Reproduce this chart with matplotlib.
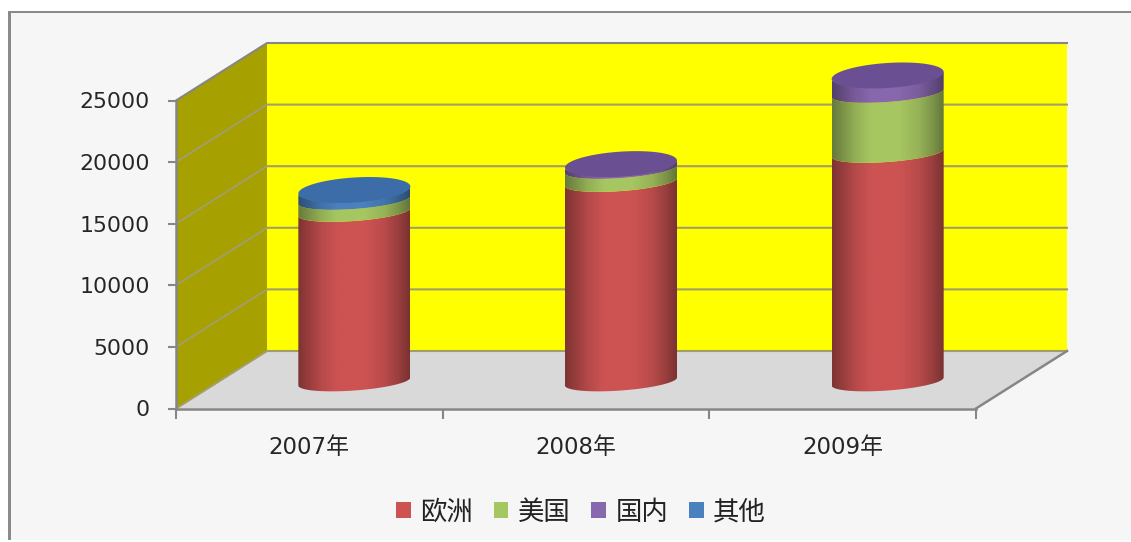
import numpy as np
import matplotlib
matplotlib.use("Agg")
import matplotlib.pyplot as plt
from matplotlib.patches import Polygon, Patch, Rectangle, PathPatch
from matplotlib.path import Path
from matplotlib.colors import to_rgb

plt.rcParams['font.family'] = ['DejaVu Sans', 'Noto Sans CJK SC']

years = ['2007年', '2008年', '2009年']
series_names = ['欧洲', '美国', '国内', '其他']
europe = [13760, 16190, 18550]
usa = [975, 1055, 4870]
domestic = [0, 400, 1420]
other = [810, 0, 0]
y_ticks = [0, 5000, 10000, 15000, 20000, 25000]

side_colors = ['#CD5353', '#A6C661', '#8767AE', '#4A80BE']
top_colors = ['#C0504D', '#9BBB59', '#6A5092', '#3D6DA8']

W, H = 1131, 542
fig = plt.figure(figsize=(W / 100, H / 100), dpi=100, facecolor='white')
fig.add_artist(Rectangle((9 / W, 1 - 540 / H), (W - 9) / W, 528 / H, transform=fig.transFigure,
                         facecolor='#F6F6F6', edgecolor='none', zorder=-5))
fig.add_artist(Rectangle((8 / W, 1 - 540 / H), 2.5 / W, 528 / H, transform=fig.transFigure,
                         facecolor='#8A8A8A', edgecolor='none', zorder=-4))
fig.add_artist(Rectangle((8 / W, 1 - 13 / H), (W - 8) / W, 1.5 / H, transform=fig.transFigure,
                         facecolor='#8A8A8A', edgecolor='none', zorder=-4))

left, right, top, bottom = 176, 976, 100.5, 408.5
ax = fig.add_axes([left / W, 1 - bottom / H, (right - left) / W, (bottom - top) / H])
ax.set_facecolor('none')
XMAX, VMAX = 3, 25000
px_x = (right - left) / XMAX
px_v = (bottom - top) / VMAX
DX, DV = 91 / px_x, 57.5 / px_v

grid_c = '#A39E66'
edge_c = '#868686'
# walls
ax.add_patch(Polygon([(0, 0), (DX, DV), (XMAX + DX, DV), (XMAX, 0)], closed=True,
                     facecolor='#D9D9D9', edgecolor='none', clip_on=False, zorder=1))
ax.add_patch(Polygon([(DX, DV), (XMAX + DX, DV), (XMAX + DX, VMAX + DV), (DX, VMAX + DV)], closed=True,
                     facecolor='#FFFF00', edgecolor='none', clip_on=False, zorder=1))
ax.add_patch(Polygon([(0, 0), (DX, DV), (DX, VMAX + DV), (0, VMAX)], closed=True,
                     facecolor='#A6A000', edgecolor='none', clip_on=False, zorder=1))
for v in y_ticks:
    ax.plot([0, DX, XMAX + DX], [v, v + DV, v + DV], color=grid_c if v not in (25000,) else edge_c,
            lw=1.5, clip_on=False, zorder=2, solid_joinstyle='miter')
ax.plot([XMAX, XMAX + DX], [0, DV], color=edge_c, lw=1.8, clip_on=False, zorder=2)

# cylinders
a = 56 / px_x
b_side = 9 / px_v
s_side = 4 / px_v
b_cap = 12.5 / px_v
s_cap = 3.5 / px_v
cx_off = 45 / px_x
base = 27 / px_v
t = np.linspace(np.pi, 2 * np.pi, 60)
shade_x = np.array([0, .08, .2, .35, .6, .78, .9, 1])
shade_y = np.array([.62, .72, .88, 1, 1, .9, .75, .6])
grad = np.interp(np.linspace(0, 1, 128), shade_x, shade_y)


def arc(cx, v, tt, bb, ss):
    return np.column_stack([cx + a * np.cos(tt), v + bb * np.sin(tt) + ss * np.cos(tt)])


series = [europe, usa, domestic, other]
for i in range(len(years)):
    cx = i + 0.5 + cx_off
    v0 = base
    last = 0
    for j, vals in enumerate(series):
        if vals[i] <= 0:
            continue
        v1 = v0 + vals[i]
        pts = np.vstack([arc(cx, v0, t, b_side, s_side), arc(cx, v1, t[::-1], b_side, s_side)])
        outline = PathPatch(Path(np.vstack([pts, pts[:1]])), facecolor='none', edgecolor='none',
                            clip_on=False, zorder=3)
        ax.add_patch(outline)
        rgb = np.array(to_rgb(side_colors[j]))
        img = grad[None, :, None] * rgb[None, None, :]
        pad = 2 * b_side + s_side
        im = ax.imshow(img, extent=(cx - a, cx + a, v0 - pad, v1 + pad), aspect='auto',
                       origin='lower', zorder=3 + j * 0.1, interpolation='bilinear')
        im.set_clip_box(fig.bbox)
        im.set_clip_path(outline)
        v0 = v1
        last = j
    tt = np.linspace(0, 2 * np.pi, 120)
    ax.add_patch(Polygon(arc(cx, v0, tt, b_cap, s_cap), closed=True, facecolor=top_colors[last],
                         edgecolor='none', clip_on=False, zorder=4))

ax.set_xlim(0, XMAX)
ax.set_ylim(0, VMAX)
for sp in ('top', 'right'):
    ax.spines[sp].set_visible(False)
for sp in ('left', 'bottom'):
    ax.spines[sp].set_color(edge_c)
    ax.spines[sp].set_linewidth(1.8)
    ax.spines[sp].set_zorder(5)
ax.set_yticks(y_ticks)
ax.set_yticklabels([str(v) for v in y_ticks])
ax.set_xticks(range(XMAX + 1))
ax.set_xticklabels([])
ax.set_xticks([k + 0.5 for k in range(XMAX)], minor=True)
ax.set_xticklabels(years, minor=True)
ax.tick_params(axis='y', length=6, width=1.5, color=edge_c, labelsize=15.8, labelcolor='#262626', pad=13)
ax.tick_params(axis='x', which='major', length=7, width=1.5, color=edge_c)
ax.tick_params(axis='x', which='minor', length=0, labelsize=16.5, labelcolor='#262626', pad=20)

handles = [Patch(facecolor=c, edgecolor='none') for c in side_colors]
leg = ax.legend(handles, series_names, ncols=4, loc='center', bbox_to_anchor=(581 / W, 1 - 512 / H),
                bbox_transform=fig.transFigure, frameon=False, handlelength=0.56, handleheight=0.56,
                handletextpad=0.36, columnspacing=0.78,
                prop={'family': ['Noto Sans CJK SC'], 'size': 19, 'weight': 'light'},
                labelcolor='#222222', borderpad=0)

fig.savefig('out.png', dpi=100)
